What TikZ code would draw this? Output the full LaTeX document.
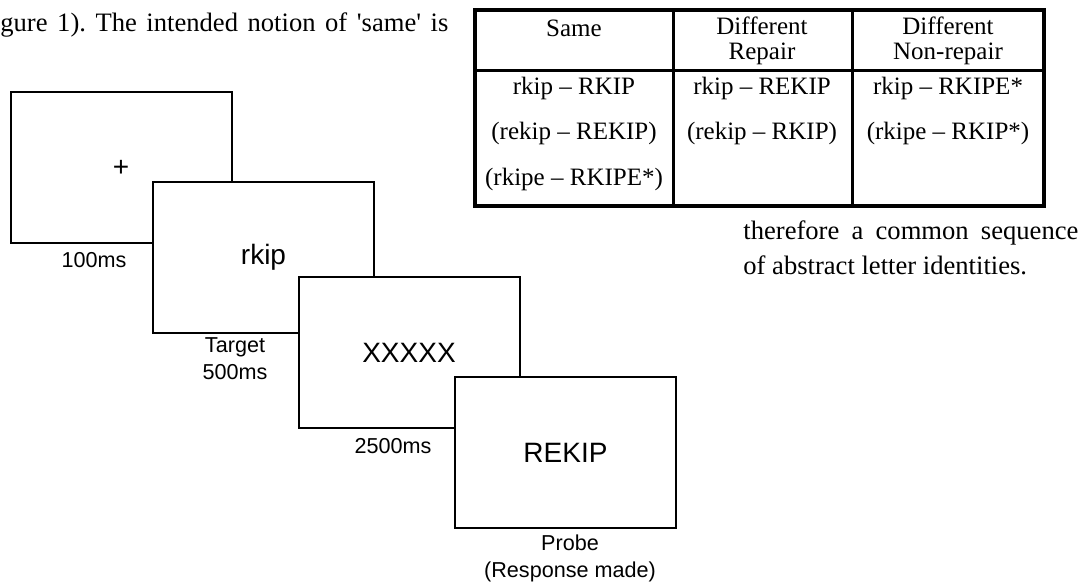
\documentclass[tikz,border=0pt]{standalone}
\usepackage{fontspec}
\setmainfont{Liberation Serif}
\setsansfont{Liberation Sans}
\frenchspacing
\tikzset{>=latex}
\tikzset{
  screen/.style={draw,line width=1pt,fill=white,inner sep=0pt,
    minimum width=110.5pt,minimum height=75.5pt,
    font=\sffamily\fontsize{14}{16}\selectfont},
  timing/.style={inner sep=0pt,align=center,
    font=\sffamily\fontsize{10.8}{13.5}\selectfont},
  cell/.style={inner sep=0pt,align=center,
    font=\fontsize{12.5}{12.5}\selectfont},
  prose/.style={inner sep=0pt,anchor=west,
    font=\fontsize{13.3}{15}\selectfont},
}

\begin{document}
\begin{tikzpicture}[x=0.5pt,y=-0.5pt]
  \useasboundingbox (0,0) rectangle (1085,582);

  % TEXT AROUND
  \node[prose] (txtA) at (0,25)
    {\makebox[224pt][s]{gure 1). The intended notion of \textquotesingle same\textquotesingle{} is}};
  \node[prose] (txtB) at (743,233)
    {\makebox[167.5pt][s]{therefore a common sequence}};
  \node[prose] (txtC) at (743,265) {of abstract letter identities.};

  % TABLE
  \def\tl{475}
  \def\tr{1044}
  \def\tt{10}
  \def\tb{206}
  \draw[line width=1.6pt] (\tl,\tt) rectangle (\tr,\tb);
  \draw[line width=1.5pt] (\tl,71) -- (\tr,71);
  \draw[line width=1.5pt] (673,\tt) -- (673,\tb);
  \draw[line width=1.5pt] (852,\tt) -- (852,\tb);
  \node[cell] (hSame) at (574,28) {Same};
  \node[cell] (hRep) at (762,40.5) {Different\\Repair};
  \node[cell] (hNon) at (948,40.5) {Different\\Non-repair};
  \node[cell] (s1) at (574,88) {rkip -- RKIP};
  \node[cell] (s2) at (574,133) {(rekip -- REKIP)};
  \node[cell] (s3) at (574,179) {(rkipe -- RKIPE*)};
  \node[cell] (r1) at (762,88) {rkip -- REKIP};
  \node[cell] (r2) at (762,133) {(rekip -- RKIP)};
  \node[cell] (n1) at (948,88) {rkip -- RKIPE*};
  \node[cell] (n2) at (948,133) {(rkipe -- RKIP*)};

  % SCREENS
  \node[screen] (fix) at (121,168) {+};
  \node[timing] (tFix) at (94,260) {100ms};
  \node[screen] (target) at (263.5,257.5) {rkip};
  \node[timing] (tTarget) at (235,359) {Target\\500ms};
  \node[screen] (mask) at (409,352.5) {XXXXX};
  \node[timing] (tMask) at (393,446) {2500ms};
  \node[screen] (probe) at (565.5,452.5) {REKIP};
  \node[timing] (tProbe) at (570,558) {Probe\\(Response made)};

\end{tikzpicture}
\end{document}
